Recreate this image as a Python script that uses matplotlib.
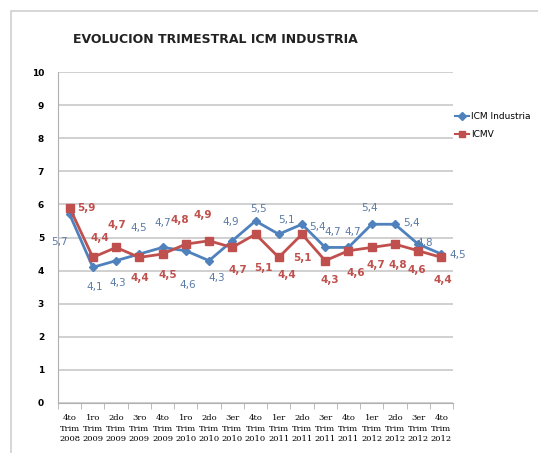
import matplotlib
matplotlib.use("Agg")
import matplotlib.pyplot as plt
from matplotlib.patches import Rectangle

quarters = ["4to\nTrim\n2008", "1ro\nTrim\n2009", "2do\nTrim\n2009", "3ro\nTrim\n2009",
            "4to\nTrim\n2009", "1ro\nTrim\n2010", "2do\nTrim\n2010", "3er\nTrim\n2010",
            "4to\nTrim\n2010", "1er\nTrim\n2011", "2do\nTrim\n2011", "3er\nTrim\n2011",
            "4to\nTrim\n2011", "1er\nTrim\n2012", "2do\nTrim\n2012", "3er\nTrim\n2012",
            "4to\nTrim\n2012"]
icm_industria = [5.7, 4.1, 4.3, 4.5, 4.7, 4.6, 4.3, 4.9, 5.5, 5.1, 5.4, 4.7, 4.7, 5.4, 5.4, 4.8, 4.5]
icmv = [5.9, 4.4, 4.7, 4.4, 4.5, 4.8, 4.9, 4.7, 5.1, 4.4, 5.1, 4.3, 4.6, 4.7, 4.8, 4.6, 4.4]

# data label offsets from each point, in pixels (dx right, dy up)
pos_ind = [(-10, -28), (2, -20), (2, -22), (-1, 26), (0, 24), (2, -34), (8, -17), (-2, 19),
           (3, 12), (8, 14), (16, -3), (8, 15), (4, 15), (-2, 16), (17, 1), (7, 1), (16, -1)]
pos_icmv = [(17, 0), (7, 19), (1, 22), (1, -21), (5, -21), (-6, 24), (-6, 26), (6, -23),
            (8, -34), (8, -18), (0, -24), (5, -19), (7, -22), (4, -18), (3, -21), (-1, -19),
            (1, -23)]

BLUE = "#4F81BD"
RED = "#C0504D"
BLUE_TXT = "#5A7BA6"

fig = plt.figure(figsize=(5.38, 4.53), dpi=100)
fig.patches.append(Rectangle((11 / 538, -0.1), 1.2, (453 - 11) / 453 + 0.1,
                             transform=fig.transFigure, fill=False,
                             edgecolor="#d0d0d0", linewidth=1.2))

ax = fig.add_axes([58 / 538, 50 / 453, 395 / 538, 331 / 453])
x = list(range(len(quarters)))
ax.plot(x, icm_industria, color=BLUE, lw=2, marker="D", ms=4, label="ICM Industria", zorder=3)
ax.plot(x, icmv, color=RED, lw=2, marker="s", ms=6, label="ICMV", zorder=3)

for i in x:
    dx, dy = pos_ind[i]
    ax.annotate(f"{icm_industria[i]:.1f}".replace(".", ","), (i, icm_industria[i]),
                xytext=(dx, dy), textcoords="offset pixels", ha="center", va="center",
                color=BLUE_TXT, fontsize=7.5)
    dx, dy = pos_icmv[i]
    ax.annotate(f"{icmv[i]:.1f}".replace(".", ","), (i, icmv[i]),
                xytext=(dx, dy), textcoords="offset pixels", ha="center", va="center",
                color=RED, fontsize=7.5, fontweight="bold")

ax.set_xlim(-0.5, len(quarters) - 0.5)
ax.set_ylim(0, 10)
ax.set_yticks(range(0, 11))
ax.yaxis.grid(True, color="#c8c8c8", lw=1.2)
ax.set_axisbelow(True)
ax.set_xticks(x)
ax.set_xticklabels(quarters, fontsize=6, fontfamily="DejaVu Serif", linespacing=1.4)
ax.set_xticks([i - 0.5 for i in range(len(quarters) + 1)], minor=True)
ax.tick_params(axis="x", which="major", length=0, pad=8)
ax.tick_params(axis="x", which="minor", length=4, color="#b0b0b0")
ax.tick_params(axis="y", length=0, labelsize=6.5, pad=10)
for lbl in ax.get_yticklabels():
    lbl.set_fontweight("bold")
for s in ["top", "right"]:
    ax.spines[s].set_visible(False)
ax.spines["left"].set_color("#b0b0b0")
ax.spines["bottom"].set_color("#b0b0b0")

fig.text(0.40, 0.912, "EVOLUCION TRIMESTRAL ICM INDUSTRIA", ha="center", va="center",
         fontsize=9, fontweight="bold", color="#222222")

leg = ax.legend(loc="upper left", bbox_to_anchor=(0.995, 0.89), frameon=False,
                fontsize=6.5, handlelength=1.6, handletextpad=0.2, labelspacing=1.0,
                borderaxespad=0)
for h in leg.legend_handles:
    h.set_markersize(4)
    h.set_linewidth(1.5)

fig.savefig("out.png", dpi=100)
